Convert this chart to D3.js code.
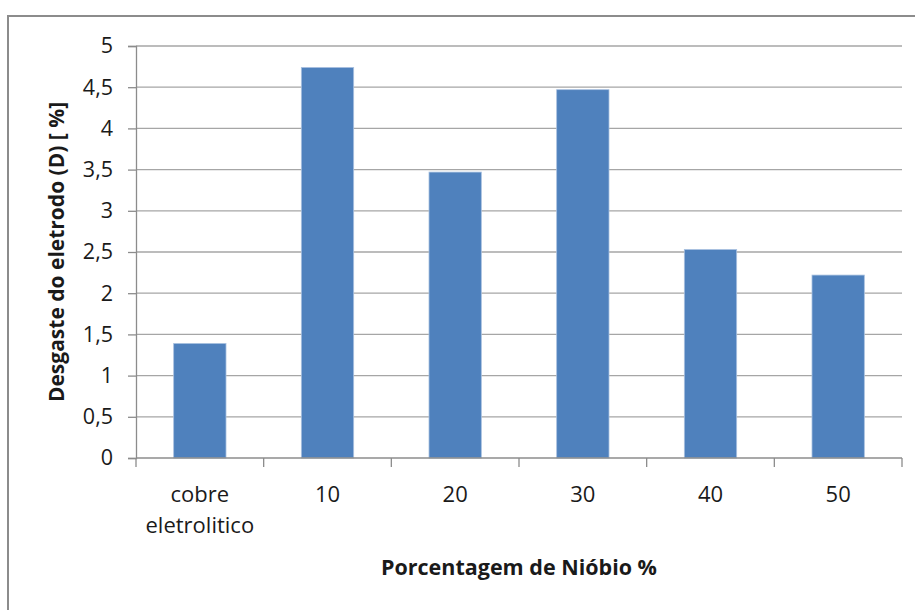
<!DOCTYPE html>
<html><head><meta charset="utf-8">
<script src="https://cdn.jsdelivr.net/npm/d3@7"></script>
<style>body{margin:0;background:#fff}svg{display:block}text{font-family:"Open Sans",sans-serif;fill:#1a1a1a}</style>
</head><body>
<svg id="c" width="915" height="610"></svg>
<script>
const categories = ["cobre\neletrolitico", "10", "20", "30", "40", "50"];
const values = [1.39, 4.74, 3.47, 4.47, 2.53, 2.22];
const yTicks = [0, 0.5, 1, 1.5, 2, 2.5, 3, 3.5, 4, 4.5, 5];
const yTitle = "Desgaste do eletrodo (D) [ %]";
const xTitle = "Porcentagem de Nióbio %";

const svg = d3.select("#c");
const L = 136, R = 902, T = 46, B = 458;
svg.append("rect").attr("x",8).attr("y",16).attr("width",940).attr("height",640)
  .attr("fill","#fff").attr("stroke","#8c8c8c").attr("stroke-width",2);

const x = d3.scaleBand().domain(categories).range([L,R]).paddingInner(0.59).paddingOuter(0.295);
const xb = d3.scaleBand().domain(categories).range([L,R]);
const y = d3.scaleLinear().domain([0,5]).range([B,T]);

// gridlines
svg.append("g").selectAll("line").data(yTicks.filter(d=>d>0)).join("line")
  .attr("x1",L).attr("x2",R).attr("y1",d=>y(d)).attr("y2",d=>y(d))
  .attr("stroke","#a6a6a6").attr("stroke-width",1.3);

// y axis
const ya = svg.append("g").attr("transform",`translate(${L},0)`)
  .call(d3.axisLeft(y).tickValues(yTicks).tickSize(8).tickPadding(15)
    .tickFormat(d=>String(d).replace(".",",")));
ya.select(".domain").attr("stroke","#8c8c8c").attr("stroke-width",1.3);
ya.selectAll(".tick line").attr("stroke","#8c8c8c").attr("stroke-width",1.3);
ya.selectAll("text").attr("font-size",21.5).attr("fill","#1a1a1a").attr("font-family","Open Sans");

// bars
svg.append("g").selectAll("rect").data(values).join("rect")
  .attr("x",(d,i)=>x(categories[i])).attr("width",x.bandwidth())
  .attr("y",d=>y(d)).attr("height",d=>B-y(d))
  .attr("fill","#4f81bd").attr("stroke","#a9c1e0").attr("stroke-width",0.8);

// x axis
const xa = svg.append("g").attr("transform",`translate(0,${B})`);
xa.append("line").attr("x1",L).attr("x2",R).attr("stroke","#8c8c8c").attr("stroke-width",1.3);
const bounds = categories.map(c=>xb(c)).concat([R]);
xa.selectAll("line.t").data(bounds).join("line").attr("class","t")
  .attr("x1",d=>d).attr("x2",d=>d).attr("y1",0).attr("y2",9)
  .attr("stroke","#8c8c8c").attr("stroke-width",1.3);
categories.forEach(c=>{
  const t = xa.append("text").attr("text-anchor","middle").attr("font-size",22)
    .attr("x", xb(c)+xb.bandwidth()/2).attr("y",44);
  c.split("\n").forEach((ln,i)=>t.append("tspan").attr("x",xb(c)+xb.bandwidth()/2).attr("dy",i?31:0).text(ln));
});

svg.append("text").attr("text-anchor","middle").attr("font-weight","bold").attr("font-size",21.5)
  .attr("x",(L+R)/2).attr("y",575).text(xTitle);
svg.append("text").attr("text-anchor","middle").attr("font-weight","bold").attr("font-size",21)
  .attr("transform",`translate(64,${(T+B)/2}) rotate(-90)`).text(yTitle);
</script>
</body></html>
